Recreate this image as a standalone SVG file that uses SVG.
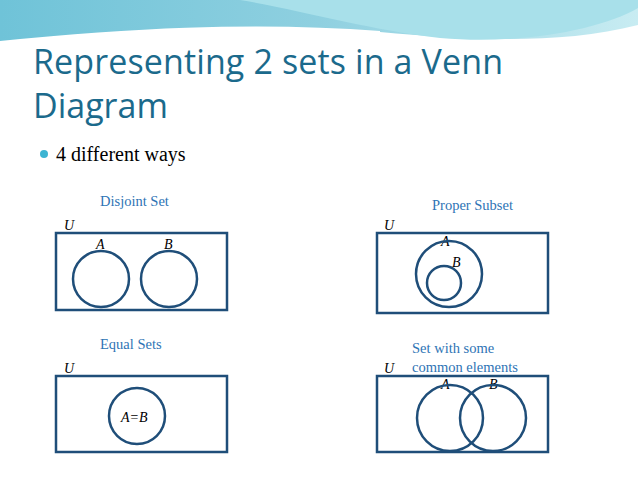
<svg xmlns="http://www.w3.org/2000/svg" width="638" height="479" viewBox="0 0 638 479">
<defs>
<linearGradient id="bg" x1="0" y1="0" x2="1" y2="0">
<stop offset="0" stop-color="#6fc3d8"/><stop offset="0.5" stop-color="#8fd0e0"/><stop offset="1" stop-color="#c8ecf2"/>
</linearGradient>
<style>
.box{fill:none;stroke:#1f4e79;stroke-width:2.5}
.cap{font-family:"Liberation Serif",serif;font-size:14.5px;fill:#2e74b5}
.it{font-family:"Liberation Serif",serif;font-size:14px;font-style:italic;fill:#000}
</style>
</defs>
<rect width="638" height="479" fill="#fff"/>
<path d="M0 0H638V25C560 45 470 40 380 32C250 22 120 30 0 42Z" fill="url(#bg)"/>
<path d="M240 0H638V8C600 30 520 45 440 38C370 30 300 10 240 0Z" fill="#a8e0ea"/>
<path d="M0 42C120 30 250 22 380 32" fill="none" stroke="#fff" stroke-width="2"/>
<text x="33" y="74" font-family="Open Sans,sans-serif" font-size="34" textLength="470" fill="#1b6a8c">Representing 2 sets in a Venn</text>
<text x="33" y="118" font-family="Open Sans,sans-serif" font-size="34" fill="#1b6a8c">Diagram</text>
<circle cx="44" cy="154" r="4" fill="#3cb4d2"/>
<text x="56" y="161" font-family="Liberation Serif,serif" font-size="20" fill="#000">4 different ways</text>
<g id="disjoint">
<text class="cap" x="100" y="206">Disjoint Set</text>
<text class="it" x="64" y="230">U</text>
<rect class="box" x="56" y="233" width="171" height="77"/>
<text class="it" x="96" y="249">A</text><text class="it" x="164" y="249">B</text>
<circle class="box" cx="101" cy="279" r="28"/><circle class="box" cx="169" cy="279" r="28"/>
</g>
<g id="subset">
<text class="cap" x="432" y="210">Proper Subset</text>
<text class="it" x="384" y="230">U</text>
<rect class="box" x="377" y="233" width="171" height="80"/>
<text class="it" x="441" y="246">A</text><text class="it" x="452" y="267">B</text>
<circle class="box" cx="449" cy="274" r="33"/><circle class="box" cx="444" cy="283" r="17"/>
</g>
<g id="equal">
<text class="cap" x="100" y="349">Equal Sets</text>
<text class="it" x="64" y="373">U</text>
<rect class="box" x="56" y="376" width="171" height="76"/>
<circle class="box" cx="137" cy="416" r="28"/>
<text class="it" x="121" y="422">A=B</text>
</g>
<g id="common">
<text class="cap" x="412" y="353">Set with some</text>
<text class="cap" x="412" y="372">common elements</text>
<text class="it" x="384" y="373">U</text>
<rect class="box" x="377" y="376" width="171" height="76"/>
<text class="it" x="441" y="389">A</text><text class="it" x="489" y="389">B</text>
<circle class="box" cx="450" cy="418" r="33"/><circle class="box" cx="493" cy="418" r="33"/>
</g>
</svg>
